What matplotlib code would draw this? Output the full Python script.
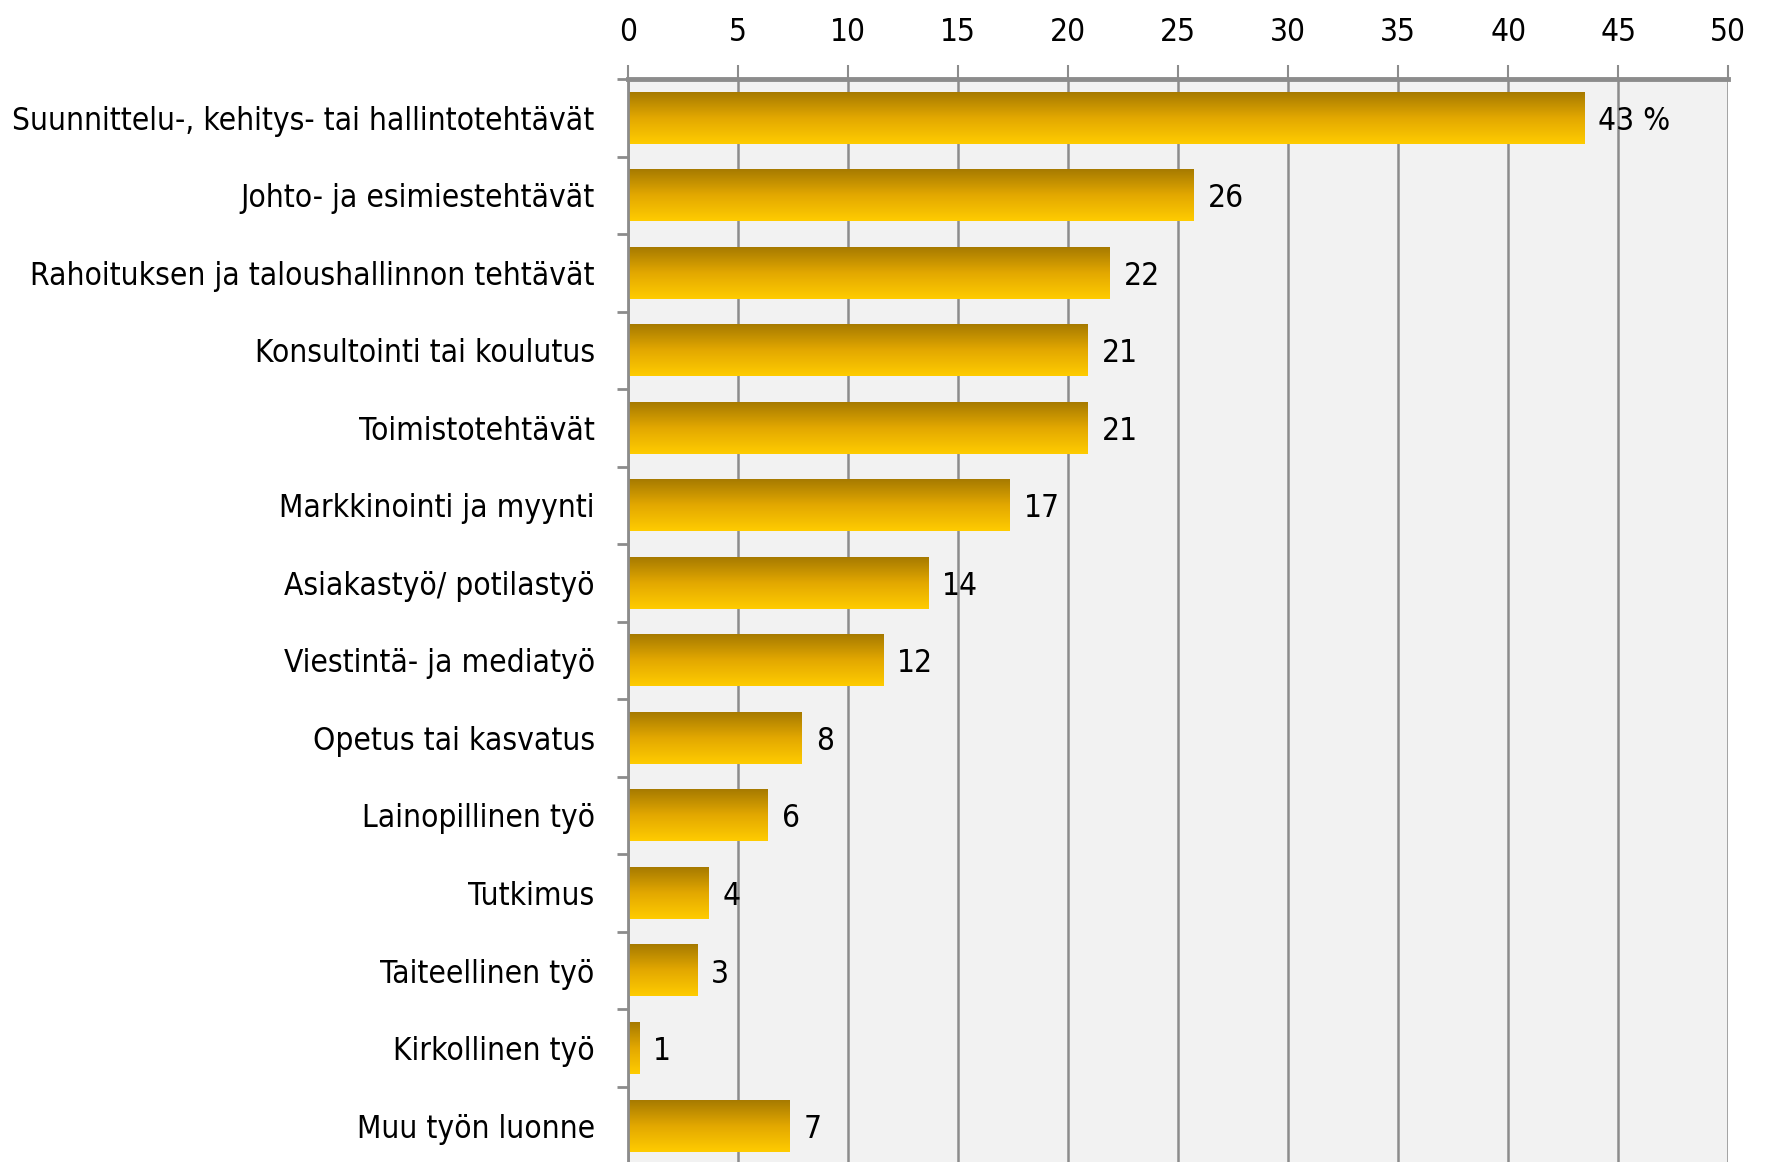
import matplotlib
matplotlib.use("Agg")
import matplotlib.pyplot as plt
import numpy as np
from matplotlib import font_manager as fm
from matplotlib.colors import LinearSegmentedColormap

categories = ['Suunnittelu-, kehitys- tai hallintotehtävät', 'Johto- ja esimiestehtävät',
              'Rahoituksen ja taloushallinnon tehtävät', 'Konsultointi tai koulutus',
              'Toimistotehtävät', 'Markkinointi ja myynti', 'Asiakastyö/ potilastyö',
              'Viestintä- ja mediatyö', 'Opetus tai kasvatus', 'Lainopillinen työ',
              'Tutkimus', 'Taiteellinen työ', 'Kirkollinen työ', 'Muu työn luonne']
values = [43.45, 25.7, 21.9, 20.9, 20.9, 17.35, 13.65, 11.6, 7.9, 6.35, 3.65, 3.15, 0.5, 7.35]
value_labels = ['43 %', '26', '22', '21', '21', '17', '14', '12', '8', '6', '4', '3', '1', '7']
xticks = [0, 5, 10, 15, 20, 25, 30, 35, 40, 45, 50]

# look for a narrow / condensed regular font, the original uses one
font_file = None
for f in fm.fontManager.ttflist:
    narrow = (f.stretch in ('condensed', 'semi-condensed', 'extra-condensed')
              or 'Narrow' in f.name or 'Condensed' in f.name)
    if narrow and f.weight in (400, 'normal', 'regular') and f.style == 'normal':
        font_file = f.fname
        break
if font_file:
    fp = fm.FontProperties(fname=font_file)
else:
    fp = fm.FontProperties(family='DejaVu Sans')

n = len(categories)
y = np.arange(n)
height = 0.67  # bar thickness

fig = plt.figure(figsize=(17.69, 11.62), dpi=100)
ax = fig.add_axes([0.355, -0.002, 0.622, 0.934])
ax.set_facecolor('#F2F2F2')

# pick a size so the longest label fits in the left margin
size = 27
renderer = fig.canvas.get_renderer()
probe = fig.text(0, 0, max(categories, key=len), fontproperties=fp, fontsize=size)
w = probe.get_window_extent(renderer).width
probe.remove()
if w > 582:
    size = size * 582 / w
fp.set_size(size)

# gradient: dark gold at top of each bar, bright yellow at the bottom
cmap = LinearSegmentedColormap.from_list('gold', ['#A67A00', '#E3A800', '#FFCC00'])
grad = np.linspace(0, 1, 256).reshape(-1, 1)

bars = ax.barh(y, values, height, color='none')
for rect in bars:
    x0, y0 = rect.get_x(), rect.get_y()
    bw, bh = rect.get_width(), rect.get_height()
    ax.imshow(grad, cmap=cmap, aspect='auto', extent=(x0, x0 + bw, y0 + bh, y0),
              zorder=2, interpolation='bilinear')

for rect, lab in zip(bars, value_labels):
    ax.annotate(lab, xy=(rect.get_width(), rect.get_y() + rect.get_height() / 2),
                xytext=(10, 0), textcoords='offset points', ha='left',
                va='center_baseline', fontproperties=fp, zorder=3)

ax.set_xlim(0, 50)
ax.set_ylim(n - 0.5, -0.5)
ax.set_xticks(xticks)
ax.set_xticklabels([str(t) for t in xticks], fontproperties=fp)
ax.xaxis.tick_top()
ax.tick_params(axis='x', direction='out', length=10, width=1.5, color='#8C8C8C', pad=12)
ax.grid(axis='x', color='#8C8C8C', linewidth=1.8, zorder=1)
ax.set_axisbelow(True)

ax.set_yticks(y)
ax.set_yticklabels(categories, fontproperties=fp, va='center_baseline')
ax.set_yticks(np.arange(-0.5, n, 1), minor=True)
ax.tick_params(axis='y', which='major', length=0, pad=24)
ax.tick_params(axis='y', which='minor', direction='out', length=8, width=2, color='#8C8C8C')

for side in ['right', 'bottom']:
    ax.spines[side].set_visible(False)
ax.spines['top'].set_color('#8C8C8C')
ax.spines['top'].set_linewidth(3.5)
ax.spines['left'].set_color('#8C8C8C')
ax.spines['left'].set_linewidth(2)

fig.savefig('out.png', dpi=100, facecolor='white')
